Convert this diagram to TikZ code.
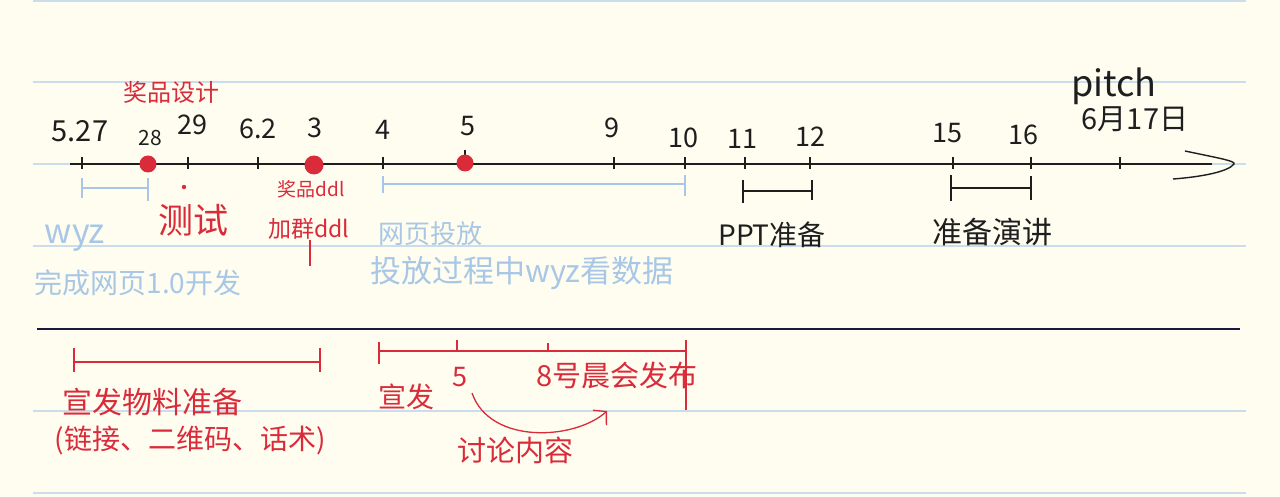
\documentclass[tikz,border=0pt]{standalone}
\usepackage{fontspec}
\newfontfamily\cjk{Noto Sans CJK SC}
\usetikzlibrary{arrows.meta}
\definecolor{paper}{HTML}{FEFDF0}
\definecolor{ruled}{HTML}{C9DDEF}
\definecolor{ink}{HTML}{1E1E1E}
\definecolor{pen}{HTML}{D92B3A}
\definecolor{sky}{HTML}{A8C7E6}
\tikzset{
  ruleline/.style={ruled, line width=1.3pt},
  darkline/.style={ink!85!blue, line width=1.6pt},
  axisline/.style={ink, line width=1.5pt},
  tickmark/.style={ink, line width=1.3pt},
  spanbar/.style={line width=1.4pt},
  lbl/.style={inner sep=0pt, font=\cjk\fontsize{24}{26}\selectfont},
  num/.style={inner sep=0pt, text=ink, font=\cjk\fontsize{27}{29}\selectfont},
  reddot/.style={circle, fill=pen, inner sep=0pt, minimum size=17pt},
}
\begin{document}
\begin{tikzpicture}[x=1pt,y=-1pt]
\fill[paper] (0,0) rectangle (1280,497);
\useasboundingbox (0,0) rectangle (1280,497);
% ruled lines
\foreach \yy in {1,82,164,246,411,493}{
  \draw[ruleline] (33,\yy) -- (1246,\yy);
}
\draw[darkline] (37,329) -- (1240,329);

% axis
\coordinate (ax0) at (70,164);
\coordinate (ax1) at (1212,164);
\draw[axisline] (ax0) -- (ax1);
\coordinate (h1) at (1185,151);
\coordinate (htip) at (1234,164);
\coordinate (h2) at (1173,179);
\draw[ink, line width=1.4pt] (h1) .. controls (1218,158) and (1236,161) .. (htip)
  .. controls (1228,172) and (1200,177) .. (h2);

% ticks
\foreach \n/\xx in {t527/82,t29/188,t62/258,t4/383,t9/614,t10/685,t11/745,t12/810,t15/953,t16/1031,t17/1120}{
  \coordinate (\n) at (\xx,164);
  \draw[tickmark] (\xx,157) -- (\xx,169);
}
\draw[tickmark] (465,150) -- (465,164);
\node[reddot] (d28) at (148,164) {};
\node[reddot, minimum size=19pt] (d3) at (314,165) {};
\node[reddot] (d5) at (465,163) {};

% date labels
\node[num, font=\cjk\fontsize{29}{31}\selectfont] (l527) at (80,131) {5.27};
\node[num, font=\cjk\fontsize{21}{23}\selectfont] (l28) at (150,138) {28};
\node[num] (l29) at (192,125) {29};
\node[num] (l62) at (258,129) {6.2};
\node[num] (l3) at (315,128) {3};
\node[num] (l4) at (383,130) {4};
\node[num] (l5) at (468,126) {5};
\node[num] (l9) at (612,128) {9};
\node[num] (l10) at (683,138) {10};
\node[num] (l11) at (742,139) {11};
\node[num] (l12) at (810,137) {12};
\node[num] (l15) at (947,133) {15};
\node[num] (l16) at (1023,135) {16};
\node[num, font=\cjk\fontsize{36}{38}\selectfont] (pitch) at (1114,86) {pitch};
\node[num, font=\cjk\fontsize{29}{31}\selectfont] (date17) at (1135,119) {6月17日};

% red notes top
\node[lbl, text=pen, font=\cjk\fontsize{24}{26}\selectfont] (jpsj) at (171,92) {奖品设计};
\fill[pen] (184,187) circle (2.2pt);
\node[lbl, text=pen, font=\cjk\fontsize{35}{37}\selectfont] (cs) at (193,220) {测试};
\node[lbl, text=pen, font=\cjk\fontsize{19}{21}\selectfont] (jpddl) at (311,189) {奖品ddl};
\node[lbl, text=pen, font=\cjk\fontsize{23}{25}\selectfont] (jqddl) at (309,229) {加群ddl};
\draw[pen, line width=1.1pt] (jqddl.south) ++(1,0) -- ++(0,26);

% blue span 1
\coordinate (b1a) at (82,188);
\coordinate (b1b) at (148,188);
\draw[sky, spanbar] (b1a) -- (b1b);
\draw[sky, spanbar] (82,178) -- (82,198) (148,178) -- (148,201);
\node[lbl, text=sky, font=\cjk\fontsize{34}{36}\selectfont] (wyz) at (75,238) {wyz};
\node[lbl, text=sky, font=\cjk\fontsize{28}{30}\selectfont] (wy10) at (138,283) {完成网页1.0开发};

% blue span 2
\coordinate (b2a) at (383,184);
\coordinate (b2b) at (685,184);
\draw[sky, spanbar] (b2a) -- (b2b);
\draw[sky, spanbar] (383,176) -- (383,193) (685,175) -- (685,196);
\node[lbl, text=sky, font=\cjk\fontsize{26}{28}\selectfont] (wytf) at (430,234) {网页投放};
\node[lbl, text=sky, font=\cjk\fontsize{31}{33}\selectfont] (tfgc) at (522,273) {投放过程中wyz看数据};

% black spans
\coordinate (p1a) at (743,191);
\coordinate (p1b) at (812,191);
\draw[ink, spanbar] (p1a) -- (p1b);
\draw[ink, spanbar] (743,180) -- (743,203) (812,180) -- (812,200);
\node[lbl, text=ink, font=\cjk\fontsize{28}{30}\selectfont] (ppt) at (772,235) {PPT准备};
\coordinate (p2a) at (951,188);
\coordinate (p2b) at (1031,188);
\draw[ink, spanbar] (p2a) -- (p2b);
\draw[ink, spanbar] (951,175) -- (951,201) (1031,176) -- (1031,200);
\node[lbl, text=ink, font=\cjk\fontsize{30}{32}\selectfont] (zbyj) at (992,232) {准备演讲};

% red spans bottom
\coordinate (r1a) at (74,362);
\coordinate (r1b) at (320,362);
\draw[pen, spanbar] (r1a) -- (r1b);
\draw[pen, spanbar] (74,348) -- (74,372) (320,348) -- (320,372);
\node[lbl, text=pen, font=\cjk\fontsize{30}{32}\selectfont] (xfwl) at (152,402) {宣发物料准备};
\node[lbl, text=pen, font=\cjk\fontsize{28}{30}\selectfont] (ljew) at (190,440) {(链接、二维码、话术)};

\coordinate (r2a) at (379,351);
\coordinate (r2b) at (686,351);
\draw[pen, spanbar] (r2a) -- (r2b);
\draw[pen, spanbar] (379,342) -- (379,364) (457,340) -- (457,351) (548,343) -- (548,351) (686,340) -- (686,410);
\node[lbl, text=pen, font=\cjk\fontsize{28}{30}\selectfont] (xf) at (406,397) {宣发};
\node[lbl, text=pen, font=\cjk\fontsize{27}{29}\selectfont] (r5) at (460,377) {5};
\node[lbl, text=pen, font=\cjk\fontsize{29}{31}\selectfont] (bhcf) at (617,375) {8号晨会发布};
\node[lbl, text=pen, font=\cjk\fontsize{29}{31}\selectfont] (tlnr) at (515,450) {讨论内容};
\coordinate (arA) at (472,393);
\coordinate (arB) at (607,411);
\draw[pen, line width=1.3pt, -{Straight Barb[length=9pt,width=20pt]}] (arA) .. controls (490,445) and (575,440) .. (arB);
\end{tikzpicture}
\end{document}
